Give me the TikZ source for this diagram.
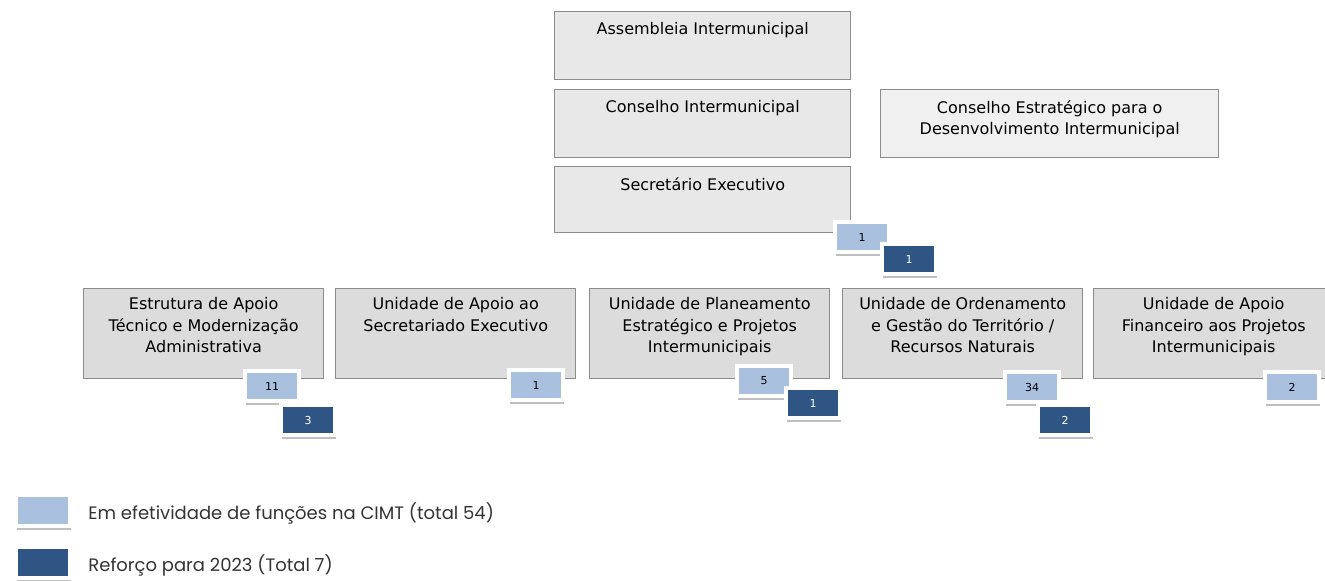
\documentclass[tikz,border=0pt]{standalone}
\usepackage{fontspec}
\setmainfont{DejaVu Sans}
\newfontfamily\legendfont{Poppins}
\usepackage{xcolor}
\usepackage{tikz}
\usetikzlibrary{positioning,shadows}

\definecolor{boxgray}{HTML}{E8E8E8}
\definecolor{unitgray}{HTML}{DCDCDC}
\definecolor{lightgray}{HTML}{F0F0F0}
\definecolor{edgegray}{HTML}{8C8C8C}
\definecolor{staffblue}{HTML}{A9C0DF}
\definecolor{newblue}{HTML}{2F5585}

\begin{document}
\begin{tikzpicture}[
      x=0.5pt, y=-0.5pt,
      orgbox/.style={draw=edgegray, line width=0.7pt, fill=boxgray, anchor=north west, minimum width=148pt, minimum height=34pt, inner sep=0pt},
      unitbox/.style={orgbox, fill=unitgray, minimum width=120pt, minimum height=45pt},
      boxtext/.style={anchor=north, align=center, inner sep=0pt, font=\fontsize{8}{10.75}\selectfont},
      badge/.style={draw=white, line width=2pt, minimum width=27pt, minimum height=15pt, inner sep=0pt, font=\fontsize{5.5}{6}\selectfont,
        drop shadow={shadow xshift=0.7pt, shadow yshift=-2.2pt, fill=black!25, opacity=1}},
      staff/.style={badge, fill=staffblue, text=black},
      reinf/.style={badge, fill=newblue, text=white},
      legendtext/.style={anchor=west, inner sep=0pt, text=black!80, font=\legendfont\fontsize{9}{11}\selectfont}
    ]
    \useasboundingbox (0,0) rectangle (1325,580);

    % Governing bodies
    \node[orgbox] (assembleia) at (554,11) {};
    \node[boxtext] (assembleia-txt) at ([yshift=-5.5pt]assembleia.north) {Assembleia Intermunicipal};
    \node[orgbox] (conselho) at (554,89) {};
    \node[boxtext] (conselho-txt) at ([yshift=-5.5pt]conselho.north) {Conselho Intermunicipal};
    \node[orgbox, fill=lightgray, minimum width=169pt] (estrategico) at (880,89) {};
    \node[boxtext] (estrategico-txt) at ([yshift=-5.5pt]estrategico.north) {Conselho Estratégico para o\\Desenvolvimento Intermunicipal};
    \node[orgbox, minimum height=33pt] (secretario) at (554,166) {};
    \node[boxtext] (secretario-txt) at ([yshift=-5.5pt]secretario.north) {Secretário Executivo};

    % Units
    \node[unitbox] (estrutura) at (83,288) {};
    \node[boxtext] (estrutura-txt) at ([yshift=-4.5pt]estrutura.north) {Estrutura de Apoio\\Técnico e Modernização\\Administrativa};
    \node[unitbox] (secretariado) at (335,288) {};
    \node[boxtext] (secretariado-txt) at ([yshift=-4.5pt]secretariado.north) {Unidade de Apoio ao\\Secretariado Executivo};
    \node[unitbox] (planeamento) at (589,288) {};
    \node[boxtext] (planeamento-txt) at ([yshift=-4.5pt]planeamento.north) {Unidade de Planeamento\\Estratégico e Projetos\\Intermunicipais};
    \node[unitbox] (ordenamento) at (842,288) {};
    \node[boxtext] (ordenamento-txt) at ([yshift=-4.5pt]ordenamento.north) {Unidade de Ordenamento\\e Gestão do Território /\\Recursos Naturais};
    \node[unitbox] (financeiro) at (1093,288) {};
    \node[boxtext] (financeiro-txt) at ([yshift=-4.5pt]financeiro.north) {Unidade de Apoio\\Financeiro aos Projetos\\Intermunicipais};

    % Staff counts
    \node[staff] (secretario-n) at (862,237) {1};
    \node[reinf] (secretario-r) at (909,259) {1};
    \node[staff] (estrutura-n) at (272,386) {11};
    \node[reinf] (estrutura-r) at (308,420) {3};
    \node[staff] (secretariado-n) at (536,385) {1};
    \node[staff] (planeamento-n) at (764,381) {5};
    \node[reinf] (planeamento-r) at (813,403) {1};
    \node[staff] (ordenamento-n) at (1032,387) {34};
    \node[reinf] (ordenamento-r) at (1065,420) {2};
    \node[staff] (financeiro-n) at (1292,387) {2};

    % Legend
    \node[staff, minimum width=27pt, minimum height=15.5pt] (key-staff) at (43,510) {};
    \node[legendtext] (key-staff-txt) at (88,513) {Em efetividade de funções na CIMT (total 54)};
    \node[reinf, minimum width=27pt, minimum height=15.5pt] (key-reinf) at (43,562) {};
    \node[legendtext] (key-reinf-txt) at (88,565) {Reforço para 2023 (Total 7)};
  \end{tikzpicture}
\end{document}
